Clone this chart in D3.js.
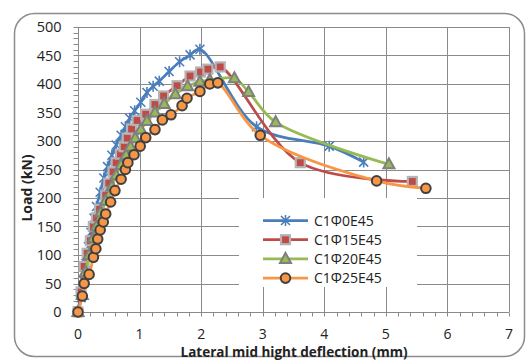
<!DOCTYPE html>
<html>
<head>
<meta charset="utf-8">
<script src="https://cdnjs.cloudflare.com/ajax/libs/d3/7.8.5/d3.min.js"></script>
<style>
  html, body { margin: 0; padding: 0; background: #fff; }
  svg { display: block; }
  text { font-family: "Open Sans", "DejaVu Sans", sans-serif; fill: #222; }
</style>
</head>
<body>
<script>
// Lateral mid-height deflection (mm) and load (kN) for each column
const seriesNames = ["C1Φ0E45", "C1Φ15E45", "C1Φ20E45", "C1Φ25E45"];

const defl0 = [0, 0.05, 0.09, 0.13, 0.17, 0.21, 0.26, 0.30, 0.36, 0.42, 0.48, 0.55, 0.62, 0.70, 0.77, 0.84, 0.92, 1.02, 1.12, 1.22, 1.32, 1.48, 1.65, 1.82, 1.98, 2.90, 4.08, 4.64];
const load0 = [0, 25, 55, 85, 115, 140, 165, 185, 210, 235, 255, 275, 293, 310, 325, 340, 353, 368, 385, 396, 405, 422, 439, 451, 461, 325, 291, 263];

const defl15 = [0, 0.05, 0.10, 0.15, 0.20, 0.25, 0.30, 0.35, 0.45, 0.50, 0.57, 0.62, 0.69, 0.75, 0.80, 0.87, 0.96, 1.10, 1.25, 1.39, 1.61, 1.82, 1.99, 2.11, 2.31, 3.61, 5.43];
const load15 = [0, 35, 80, 103, 125, 150, 165, 180, 205, 226, 246, 262, 277, 290, 305, 321, 336, 347, 364, 379, 397, 414, 421, 426, 430, 262, 229];

const defl20 = [0, 0.07, 0.12, 0.18, 0.25, 0.30, 0.37, 0.45, 0.55, 0.62, 0.70, 0.78, 0.85, 0.93, 1.02, 1.12, 1.25, 1.40, 1.58, 1.78, 1.98, 2.14, 2.54, 2.77, 3.21, 5.05];
const load20 = [0, 30, 70, 100, 130, 150, 175, 195, 220, 240, 258, 275, 290, 305, 320, 335, 350, 365, 382, 396, 404, 407, 410, 386, 333, 259];

const defl25 = [0, 0.07, 0.10, 0.18, 0.25, 0.29, 0.32, 0.36, 0.41, 0.45, 0.53, 0.60, 0.70, 0.77, 0.81, 0.91, 1.01, 1.10, 1.25, 1.37, 1.51, 1.69, 1.77, 1.98, 2.14, 2.27, 2.96, 4.85, 5.65];
const load25 = [0, 28, 50, 66, 96, 111, 128, 144, 158, 172, 193, 213, 233, 250, 262, 276, 291, 306, 320, 337, 346, 362, 375, 387, 400, 402, 310, 230, 217];

const xTicks = [0, 1, 2, 3, 4, 5, 6, 7];
const yTicks = [0, 50, 100, 150, 200, 250, 300, 350, 400, 450, 500];

const xTitle = "Lateral mid hight deflection (mm)";
const yTitle = "Load (kN)";

const W = 527, H = 360;
const svg = d3.select("body").append("svg").attr("width", W).attr("height", H);

// chart frame
svg.append("rect")
  .attr("x", 14.5).attr("y", 13.5).attr("width", 510).attr("height", 343)
  .attr("rx", 20).attr("ry", 20)
  .attr("fill", "#fff").attr("stroke", "#8c8c8c").attr("stroke-width", 1.5);

const x = d3.scaleLinear().domain([0, 7]).range([78, 509]);
const y = d3.scaleLinear().domain([0, 500]).range([312, 27]);

const grid = svg.append("g");
// horizontal gridlines
grid.selectAll("line.h").data(yTicks.filter(d => d > 0)).join("line")
  .attr("x1", x(0)).attr("x2", x(7))
  .attr("y1", d => Math.round(y(d)) + 0.5).attr("y2", d => Math.round(y(d)) + 0.5)
  .attr("stroke", "#8a8a8a").attr("stroke-width", 1);
// vertical gridlines
grid.selectAll("line.v").data(xTicks.filter(d => d > 0)).join("line")
  .attr("x1", d => Math.round(x(d)) + 0.5).attr("x2", d => Math.round(x(d)) + 0.5)
  .attr("y1", y(500)).attr("y2", y(0))
  .attr("stroke", "#8a8a8a").attr("stroke-width", 1);

// axes with minor ticks
const xMinor = d3.range(0, 7.0001, 0.2);
const yMinor = d3.range(0, 500.1, 10);

const xAxis = svg.append("g").attr("transform", `translate(0,${Math.round(y(0)) + 0.5})`);
xAxis.append("line").attr("x1", x(0)).attr("x2", x(7)).attr("stroke", "#8a8a8a");
xAxis.selectAll("line.t").data(xMinor).join("line")
  .attr("x1", d => Math.round(x(d)) + 0.5).attr("x2", d => Math.round(x(d)) + 0.5)
  .attr("y1", 0).attr("y2", 4).attr("stroke", "#8a8a8a");
xAxis.selectAll("text").data(xTicks).join("text")
  .attr("x", d => x(d)).attr("y", 26)
  .attr("text-anchor", "middle").attr("font-size", 14)
  .text(d => d);

const yAxis = svg.append("g").attr("transform", `translate(${Math.round(x(0)) + 0.5},0)`);
yAxis.append("line").attr("y1", y(0)).attr("y2", y(500)).attr("stroke", "#8a8a8a");
yAxis.selectAll("line.t").data(yMinor).join("line")
  .attr("y1", d => Math.round(y(d)) + 0.5).attr("y2", d => Math.round(y(d)) + 0.5)
  .attr("x1", -5).attr("x2", 0).attr("stroke", "#8a8a8a");
yAxis.selectAll("text").data(yTicks).join("text")
  .attr("x", -17).attr("y", d => y(d) + 5)
  .attr("text-anchor", "end").attr("font-size", 14.5)
  .text(d => d);

// axis titles
svg.append("text")
  .attr("x", 294).attr("y", 356.5)
  .attr("text-anchor", "middle").attr("font-size", 13.5).attr("font-weight", "bold")
  .text(xTitle);
svg.append("text")
  .attr("transform", "translate(32,188) rotate(-90)")
  .attr("text-anchor", "middle").attr("font-size", 14).attr("font-weight", "bold")
  .text(yTitle);

// series styles
const styles = [
  { color: "#4a7ebb", marker: "star" },
  { color: "#be4b48", marker: "square" },
  { color: "#98b954", marker: "triangle" },
  { color: "#f79646", marker: "circle" }
];
const seriesData = [
  d3.zip(defl0, load0),
  d3.zip(defl15, load15),
  d3.zip(defl20, load20),
  d3.zip(defl25, load25)
];

function drawMarker(g, type, color) {
  if (type === "star") {
    const s = 4.5;
    g.append("path")
      .attr("d", `M${-s},${-s}L${s},${s}M${-s},${s}L${s},${-s}M0,${-s - 1}L0,${s + 1}`)
      .attr("stroke", color).attr("stroke-width", 1.6).attr("fill", "none");
  } else if (type === "square") {
    g.append("rect").attr("x", -4.5).attr("y", -4.5).attr("width", 9).attr("height", 9)
      .attr("fill", color).attr("stroke", "#b4b4b4").attr("stroke-width", 2.2);
  } else if (type === "triangle") {
    g.append("path").attr("d", "M0,-6L5.5,4L-5.5,4Z")
      .attr("fill", color).attr("stroke", "#7f7f7f").attr("stroke-width", 2);
  } else {
    g.append("circle").attr("r", 4.8)
      .attr("fill", color).attr("stroke", "#404040").attr("stroke-width", 2);
  }
}

const line = d3.line().x(d => x(d[0])).y(d => y(d[1])).curve(d3.curveCatmullRom.alpha(0.5));

// legend panel sits over the gridlines
const legend = svg.append("g");
legend.append("rect").attr("x", 239).attr("y", 198).attr("width", 178).attr("height", 89).attr("fill", "#fff");

seriesData.forEach((data, i) => {
  const st = styles[i];
  const g = svg.append("g");
  g.append("path").datum(data).attr("d", line)
    .attr("fill", "none").attr("stroke", st.color).attr("stroke-width", 2.75)
    .attr("stroke-linejoin", "round");
  data.forEach(d => {
    const m = g.append("g").attr("transform", `translate(${x(d[0])},${y(d[1])})`);
    drawMarker(m, st.marker, st.color);
  });

  const ly = 220.5 + i * 19.2;
  const le = legend.append("g");
  le.append("line").attr("x1", 263).attr("x2", 308).attr("y1", ly).attr("y2", ly)
    .attr("stroke", st.color).attr("stroke-width", 2.75);
  drawMarker(le.append("g").attr("transform", `translate(285.5,${ly})`), st.marker, st.color);
  le.append("text").attr("x", 314).attr("y", ly + 5).attr("font-size", 14).text(seriesNames[i]);
});
</script>
</body>
</html>
